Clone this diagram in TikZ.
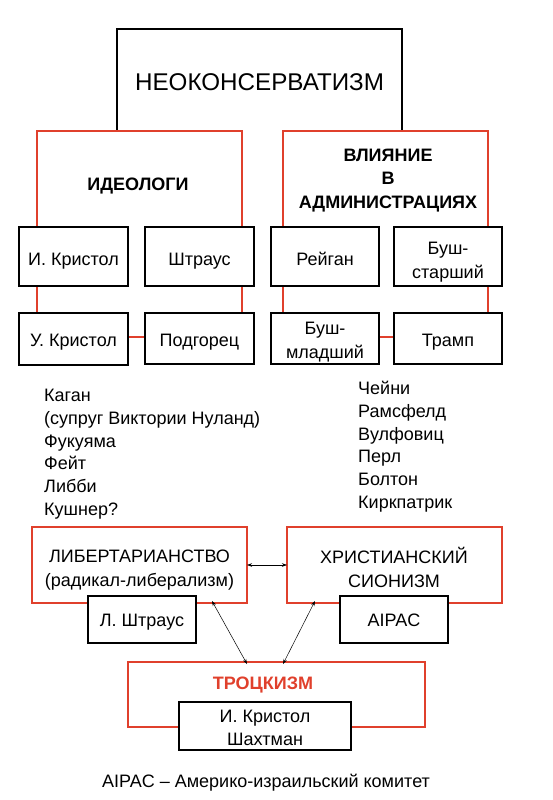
\documentclass[tikz,border=0pt]{standalone}
\usepackage{fontspec}
\setmainfont{Liberation Sans}
\usetikzlibrary{arrows.meta,calc}
\definecolor{rd}{RGB}{224,64,44}
\tikzset{
  redbox/.style={draw=rd, line width=2.8pt, inner sep=0pt, outer sep=0pt},
  smallbox/.style={draw=black, line width=1.1pt, fill=white, inner sep=0pt, outer sep=0pt, align=center, font=\fontsize{18}{20}\selectfont},
  tpos/.style 2 args={text height=#1, text depth=#2},
  plain/.style={inner sep=0pt, align=center, font=\fontsize{18}{22.6}\selectfont},
  listtxt/.style={inner sep=0pt, align=left, anchor=north west, font=\fontsize{18}{22.8}\selectfont},
  biarrow/.style={{Stealth[length=5pt,width=3.5pt]}-{Stealth[length=5pt,width=3.5pt]}, line width=0.5pt}
}
\begin{document}
\begin{tikzpicture}[x=1pt,y=-1pt]
\useasboundingbox (0,0) rectangle (552,800);
% top open box
\coordinate (tl) at (117,131);
\coordinate (tr) at (402,131);
\draw[line width=1.1pt] (tl) -- (117,29) -- (402,29) -- (tr);
\node[plain, font=\fontsize{24.2}{28}\selectfont] (title) at (259.5,82) {НЕОКОНСЕРВАТИЗМ};
% red group boxes
\node[redbox, minimum width=205pt, minimum height=206pt] (ideo) at (139.5,234) {};
\node[redbox, minimum width=205pt, minimum height=206pt] (infl) at (385.5,234) {};
\node[plain, font=\bfseries\fontsize{18}{20}\selectfont] (ideoT) at (138,186) {ИДЕОЛОГИ};
\node[plain, font=\bfseries\fontsize{18}{23.5}\selectfont] (inflT) at (388,180.5) {ВЛИЯНИЕ\\В\\АДМИНИСТРАЦИЯХ};
% small boxes
\node[smallbox, tpos={17.8pt}{0pt}, minimum width=109pt, minimum height=59pt] (ik) at (73.5,256.5) {И. Кристол};
\node[smallbox, tpos={17.8pt}{0pt}, minimum width=109pt, minimum height=59pt] (sh) at (199.5,256.5) {Штраус};
\node[smallbox, tpos={17.8pt}{0pt}, minimum width=108pt, minimum height=59pt] (re) at (325,256.5) {Рейган};
\node[smallbox, tpos={43.3pt}{0pt}, minimum width=108pt, minimum height=59pt, font=\fontsize{18}{23.5}\selectfont] (bs) at (448,256.5) {Буш-\\старший};
\node[smallbox, tpos={14.8pt}{0pt}, minimum width=109pt, minimum height=52pt] (uk) at (73.5,339) {У. Кристол};
\node[smallbox, tpos={15.8pt}{0pt}, minimum width=109pt, minimum height=51pt] (po) at (199.5,338.5) {Подгорец};
\node[smallbox, tpos={39.8pt}{0pt}, minimum width=108pt, minimum height=51pt, font=\fontsize{18}{24}\selectfont] (bm) at (325,338.5) {Буш-\\младший};
\node[smallbox, tpos={15.8pt}{0pt}, minimum width=108pt, minimum height=51pt] (tr2) at (448,338.5) {Трамп};
% lists
\node[listtxt] (leftlist) at (44,389) {Каган\\(супруг Виктории Нуланд)\\Фукуяма\\Фейт\\Либби\\Кушнер?};
\node[listtxt] (rightlist) at (358,381) {Чейни\\Рамсфелд\\Вулфовиц\\Перл\\Болтон\\Киркпатрик};
% lower red boxes
\node[redbox, minimum width=215pt, minimum height=76pt] (lib) at (139.5,565) {};
\node[redbox, minimum width=215pt, minimum height=76pt] (chr) at (394.5,565) {};
\node[plain, font=\fontsize{18}{24.5}\selectfont] (libT) at (139.5,570) {ЛИБЕРТАРИАНСТВО\\(радикал-либерализм)};
\node[plain, font=\fontsize{18}{24.5}\selectfont] (chrT) at (394,567.5) {ХРИСТИАНСКИЙ\\СИОНИЗМ};
\node[smallbox, tpos={13.8pt}{0pt}, minimum width=108pt, minimum height=47pt] (ls) at (142,619.5) {Л. Штраус};
\node[smallbox, tpos={13.8pt}{0pt}, minimum width=108pt, minimum height=47pt] (ai) at (394,619.5) {AIPAC};
\node[redbox, minimum width=297pt, minimum height=65pt] (trot) at (276.5,694.5) {};
\node[plain, text=rd, font=\bfseries\fontsize{18}{20}\selectfont] (trotT) at (263,685) {ТРОЦКИЗМ};
\node[smallbox, tpos={38.8pt}{0pt}, minimum width=172pt, minimum height=48pt, font=\fontsize{18}{23}\selectfont] (ks) at (265,726) {И. Кристол\\Шахтман};
% arrows
\draw[biarrow] (lib.east) -- (chr.west);
\draw[biarrow] ([xshift=-35pt,yshift=2pt]lib.south east) -- ([xshift=-29.5pt,yshift=-2pt]trot.north);
\draw[biarrow] ([xshift=28pt,yshift=2pt]chr.south west) -- ([xshift=6.5pt,yshift=-2pt]trot.north);
% footer
\node[plain] (foot) at (266,782.5) {AIPAC – Америко-израильский комитет};
\end{tikzpicture}
\end{document}
